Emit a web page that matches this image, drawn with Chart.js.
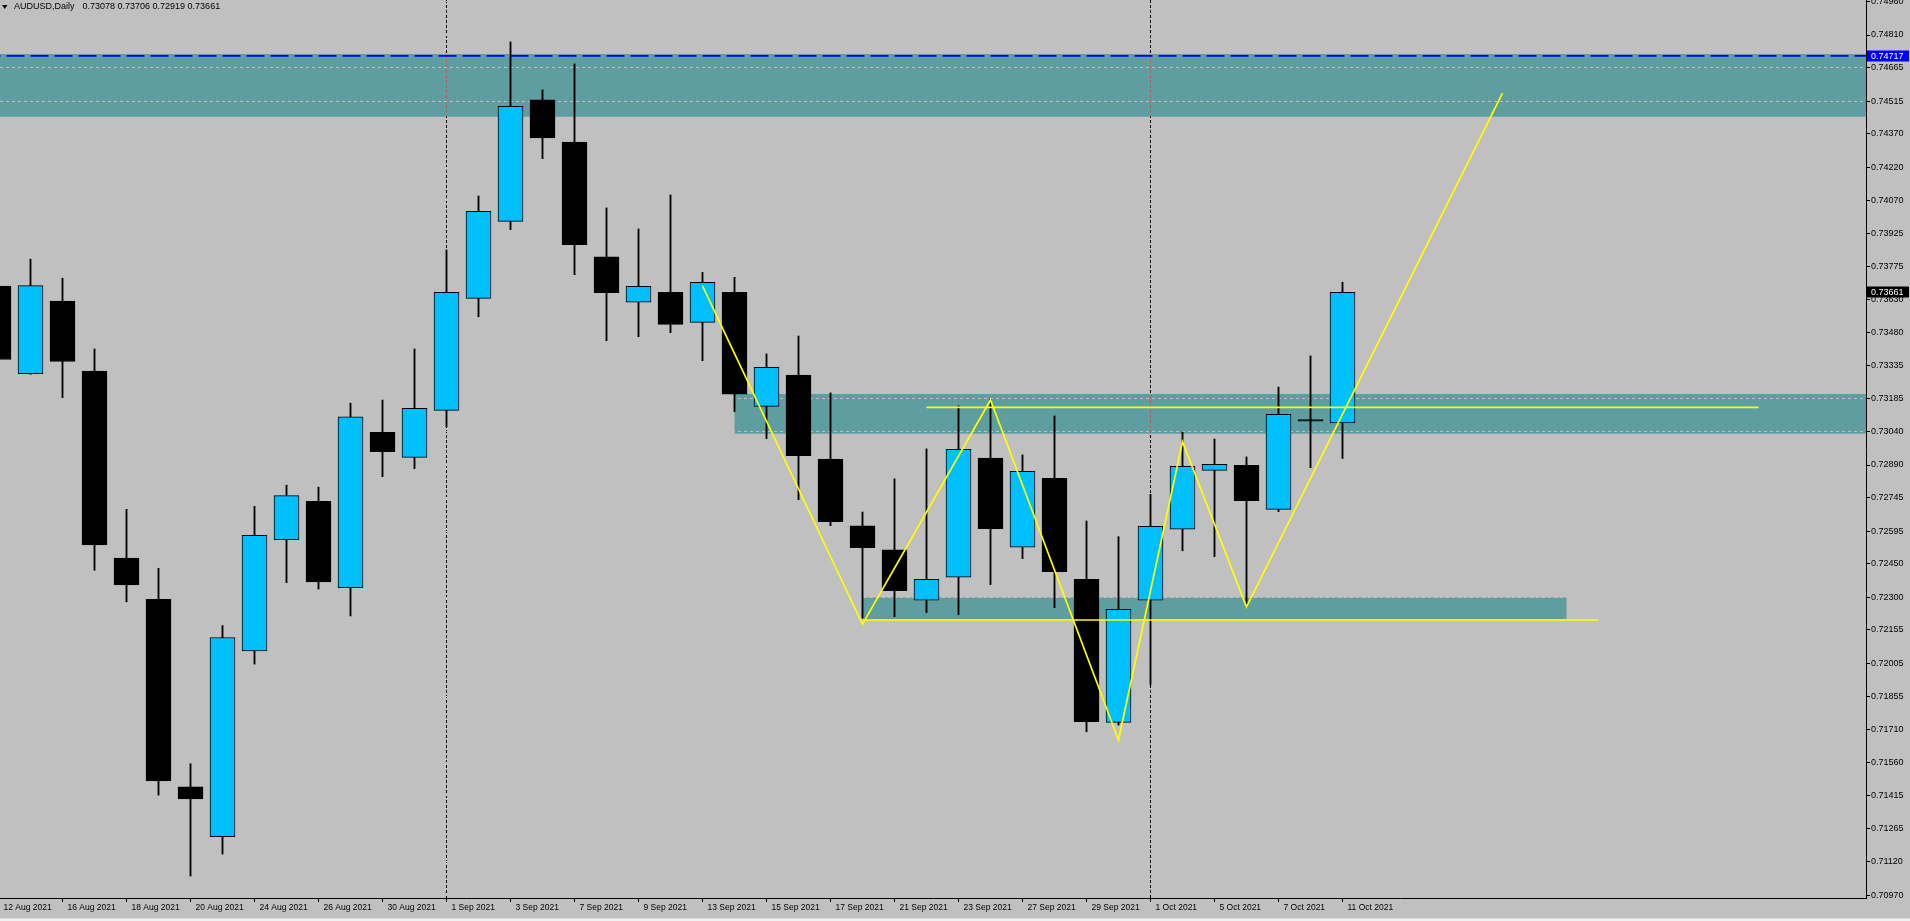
<!DOCTYPE html>
<html>
<head>
<meta charset="utf-8">
<title>AUDUSD,Daily</title>
<script src="https://cdn.jsdelivr.net/npm/chart.js@4.4.1/dist/chart.umd.min.js"></script>
<style>
  html, body { margin: 0; padding: 0; background: #c0c0c0; overflow: hidden; }
  canvas { display: block; }
</style>
</head>
<body>
<canvas id="chart" width="1910" height="921"></canvas>
<script>
const symbol = 'AUDUSD';
const period = 'Daily';

const days = ['12 Aug 2021','13 Aug 2021','16 Aug 2021','17 Aug 2021','18 Aug 2021','19 Aug 2021','20 Aug 2021',
  '23 Aug 2021','24 Aug 2021','25 Aug 2021','26 Aug 2021','27 Aug 2021','30 Aug 2021','31 Aug 2021',
  '1 Sep 2021','2 Sep 2021','3 Sep 2021','6 Sep 2021','7 Sep 2021','8 Sep 2021','9 Sep 2021','10 Sep 2021',
  '13 Sep 2021','14 Sep 2021','15 Sep 2021','16 Sep 2021','17 Sep 2021','20 Sep 2021','21 Sep 2021',
  '22 Sep 2021','23 Sep 2021','24 Sep 2021','27 Sep 2021','28 Sep 2021','29 Sep 2021','30 Sep 2021',
  '1 Oct 2021','4 Oct 2021','5 Oct 2021','6 Oct 2021','7 Oct 2021','8 Oct 2021','11 Oct 2021'];

const open  = [0.73689,0.73298,0.73622,0.73309,0.72474,0.72290,0.71453,0.71230,0.72060,0.72557,0.72728,0.72342,0.73036,0.72924,
  0.73134,0.73634,0.73978,0.74520,0.74332,0.73819,0.73617,0.73661,0.73527,0.73661,0.73152,0.73292,0.72917,0.72618,0.72511,
  0.72286,0.72389,0.72921,0.72523,0.72831,0.72380,0.71741,0.72286,0.72603,0.72866,0.72889,0.72692,0.73093,0.73078];
const high  = [0.73760,0.73809,0.73724,0.73408,0.72692,0.72429,0.71556,0.72173,0.72705,0.72800,0.72791,0.73166,0.73180,0.73408,
  0.73850,0.74091,0.74779,0.74565,0.74681,0.74038,0.73944,0.74096,0.73750,0.73728,0.73386,0.73466,0.73212,0.72680,0.72828,
  0.72962,0.73154,0.73183,0.72935,0.73109,0.72640,0.72570,0.72759,0.73037,0.73006,0.72926,0.73238,0.73377,0.73706];
const low   = [0.73300,0.73295,0.73191,0.72420,0.72279,0.71416,0.71055,0.71153,0.72001,0.72365,0.72336,0.72216,0.72838,0.72874,
  0.73061,0.73552,0.73941,0.74258,0.73740,0.73445,0.73463,0.73481,0.73356,0.73128,0.73008,0.72735,0.72619,0.72206,0.72213,
  0.72231,0.72222,0.72356,0.72472,0.72253,0.71699,0.71729,0.71909,0.72507,0.72481,0.72257,0.72682,0.72878,0.72919];
const close = [0.73361,0.73691,0.73352,0.72533,0.72355,0.71479,0.71399,0.72120,0.72576,0.72753,0.72368,0.73105,0.72950,0.73143,
  0.73661,0.74023,0.74492,0.74351,0.73874,0.73659,0.73688,0.73518,0.73706,0.73206,0.73326,0.72932,0.72637,0.72521,0.72329,
  0.72380,0.72960,0.72606,0.72862,0.72414,0.71744,0.72246,0.72616,0.72884,0.72893,0.72731,0.73116,0.73086,0.73661];

const yTicks = [0.74960,0.74810,0.74665,0.74515,0.74370,0.74220,0.74070,0.73925,0.73775,0.73630,0.73480,0.73335,0.73185,0.73040,
  0.72890,0.72745,0.72595,0.72450,0.72300,0.72155,0.72005,0.71855,0.71710,0.71560,0.71415,0.71265,0.71120,0.70970];

// rectangles (bar index from/to, price top/bottom)
const zoneFrom   = [-10, 23, 27];
const zoneTo     = [80, 80, 49];
const zoneTop    = [0.74725, 0.73207, 0.72299];
const zoneBottom = [0.74445, 0.73030, 0.72201];

// zigzag trend line
const waveBar   = [22, 27, 31, 35, 37, 39, 47];
const wavePrice = [0.73690, 0.72179, 0.73180, 0.71662, 0.72994, 0.72257, 0.74551];

// horizontal yellow levels
const levelFrom  = [29, 27];
const levelTo    = [55, 50];
const levelPrice = [0.73147, 0.72198];

const resistance = 0.74717;

const FONT = '"Liberation Sans", Arial, sans-serif';
const BAR_PX = 32;

const n = days.length;
const ids = days.map((d, i) => i);
const isUp = ids.map(i => close[i] >= open[i]);
const month = d => d.split(' ')[1];
const separators = ids.filter(i => i > 0 && month(days[i]) !== month(days[i - 1]));

function clipArea(ctx, a){
  ctx.beginPath();
  ctx.rect(a.left, a.top, a.right - a.left, a.bottom - a.top);
  ctx.clip();
}

function separatorLine(ctx, x, a, color){
  ctx.strokeStyle = color;
  ctx.lineWidth = 1;
  ctx.setLineDash([3, 2]);
  ctx.beginPath();
  ctx.moveTo(x, a.top);
  ctx.lineTo(x, a.bottom);
  ctx.stroke();
}

const backdrop = {
  id: 'backdrop',
  beforeDraw(chart){
    const {ctx, chartArea: a, scales: {x, y}} = chart;
    ctx.save();
    ctx.fillStyle = '#c0c0c0';
    ctx.fillRect(0, 0, chart.width, chart.height);
    clipArea(ctx, a);
    ctx.fillStyle = '#5f9ea0';
    const rects = zoneTop.map((t, k) => {
      const x1 = x.getPixelForValue(zoneFrom[k]), x2 = x.getPixelForValue(zoneTo[k]);
      const y1 = y.getPixelForValue(t), y2 = y.getPixelForValue(zoneBottom[k]);
      ctx.fillRect(x1, y1, x2 - x1, y2 - y1);
      return [x1, y1, x2 - x1, y2 - y1];
    });
    separators.forEach(i => {
      const sx = x.getPixelForValue(i);
      separatorLine(ctx, sx, a, '#000');
      rects.forEach(r => {
        ctx.save();
        ctx.beginPath(); ctx.rect(r[0], r[1], r[2], r[3]); ctx.clip();
        separatorLine(ctx, sx, a, '#b06060');
        ctx.restore();
      });
    });
    ctx.restore();
  }
};

function priceTag(ctx, left, y, text, fill){
  ctx.fillStyle = fill;
  ctx.fillRect(left + 1, Math.round(y) - 5.5, 42, 11);
  ctx.fillStyle = '#fff';
  ctx.fillText(text, left + 5, y + 0.5);
}

const overlay = {
  id: 'overlay',
  afterDraw(chart){
    const {ctx, chartArea: a, scales: {y}} = chart;
    const last = n - 1;
    ctx.save();
    ctx.font = '9px ' + FONT;
    ctx.textBaseline = 'middle';
    ctx.fillStyle = '#000';
    ctx.beginPath();
    ctx.moveTo(2, 5); ctx.lineTo(7.5, 5); ctx.lineTo(4.75, 9);
    ctx.closePath(); ctx.fill();
    const name = symbol + ',' + period;
    ctx.fillText(name, 14, 6.5);
    const ohlc = [open[last], high[last], low[last], close[last]].map(v => v.toFixed(5)).join(' ');
    ctx.fillText(ohlc, 14 + ctx.measureText(name).width + 8, 6.5);

    priceTag(ctx, a.right, y.getPixelForValue(resistance), resistance.toFixed(5), '#0000ff');
    priceTag(ctx, a.right, y.getPixelForValue(close[last]), close[last].toFixed(5), '#000');

    ctx.fillStyle = '#f0f0f0';
    ctx.fillRect(0, chart.height - 2.5, chart.width, 2.5);
    ctx.restore();
  }
};

const yellow = { type: 'line', borderColor: '#ffff00', borderWidth: 1.7, pointRadius: 0, tension: 0, fill: false, order: 1 };

const datasets = [
  { ...yellow, data: waveBar.map((b, k) => ({x: b, y: wavePrice[k]})) },
  ...levelPrice.map((p, k) => ({ ...yellow, data: [{x: levelFrom[k], y: p}, {x: levelTo[k], y: p}] })),
  { type: 'bar', data: ids.map(i => ({x: i, y: [open[i], close[i]]})),
    backgroundColor: isUp.map(u => u ? '#00bfff' : '#000'), borderColor: '#000', borderWidth: 1,
    borderSkipped: false, barThickness: 25, grouped: false, order: 3 },
  { type: 'bar', data: ids.map(i => ({x: i, y: [low[i], high[i]]})),
    backgroundColor: '#000', barThickness: 1.2, grouped: false, order: 4 },
  { type: 'line', data: [{x: -5, y: resistance}, {x: 80, y: resistance}], borderColor: '#0000ff',
    borderWidth: 1.6, borderDash: [18, 6], pointRadius: 0, fill: false, order: 5 }
];

const plotWidth = 1866;
const xMin = 1.5 / BAR_PX;

new Chart(document.getElementById('chart'), {
  type: 'bar',
  data: { datasets },
  options: {
    responsive: false,
    animation: false,
    devicePixelRatio: 1,
    layout: { padding: 0 },
    plugins: { legend: { display: false }, tooltip: { enabled: false } },
    scales: {
      x: {
        type: 'linear',
        offset: false,
        min: xMin,
        max: xMin + plotWidth / BAR_PX,
        afterBuildTicks: s => { s.ticks = ids.filter(i => i % 2 === 0).map(i => ({value: i})); },
        afterFit: s => { s.height = 23; s.paddingLeft = 0; s.paddingRight = 0; },
        grid: { offset: false, drawOnChartArea: false, drawTicks: true, tickLength: 4, tickColor: '#000' },
        border: { color: '#000', width: 1 },
        ticks: { callback: v => days[v], align: 'start', labelOffset: 5, maxRotation: 0, autoSkip: false,
          padding: 1, color: '#000', font: { family: FONT, size: 8.5 } }
      },
      y: {
        type: 'linear',
        position: 'right',
        min: 0.709567,
        max: 0.749663,
        afterBuildTicks: s => { s.ticks = yTicks.map(v => ({value: v})); },
        afterFit: s => { s.width = 1910 - plotWidth; s.paddingTop = 0; s.paddingBottom = 0; },
        grid: { color: '#c0c0c0', lineWidth: 1, drawTicks: true, tickLength: 4, tickColor: '#000' },
        border: { color: '#000', width: 1, dash: [3, 3] },
        ticks: { callback: v => v.toFixed(5), padding: 1, color: '#000', font: { family: FONT, size: 9 } }
      }
    }
  },
  plugins: [backdrop, overlay]
});
</script>
</body>
</html>
